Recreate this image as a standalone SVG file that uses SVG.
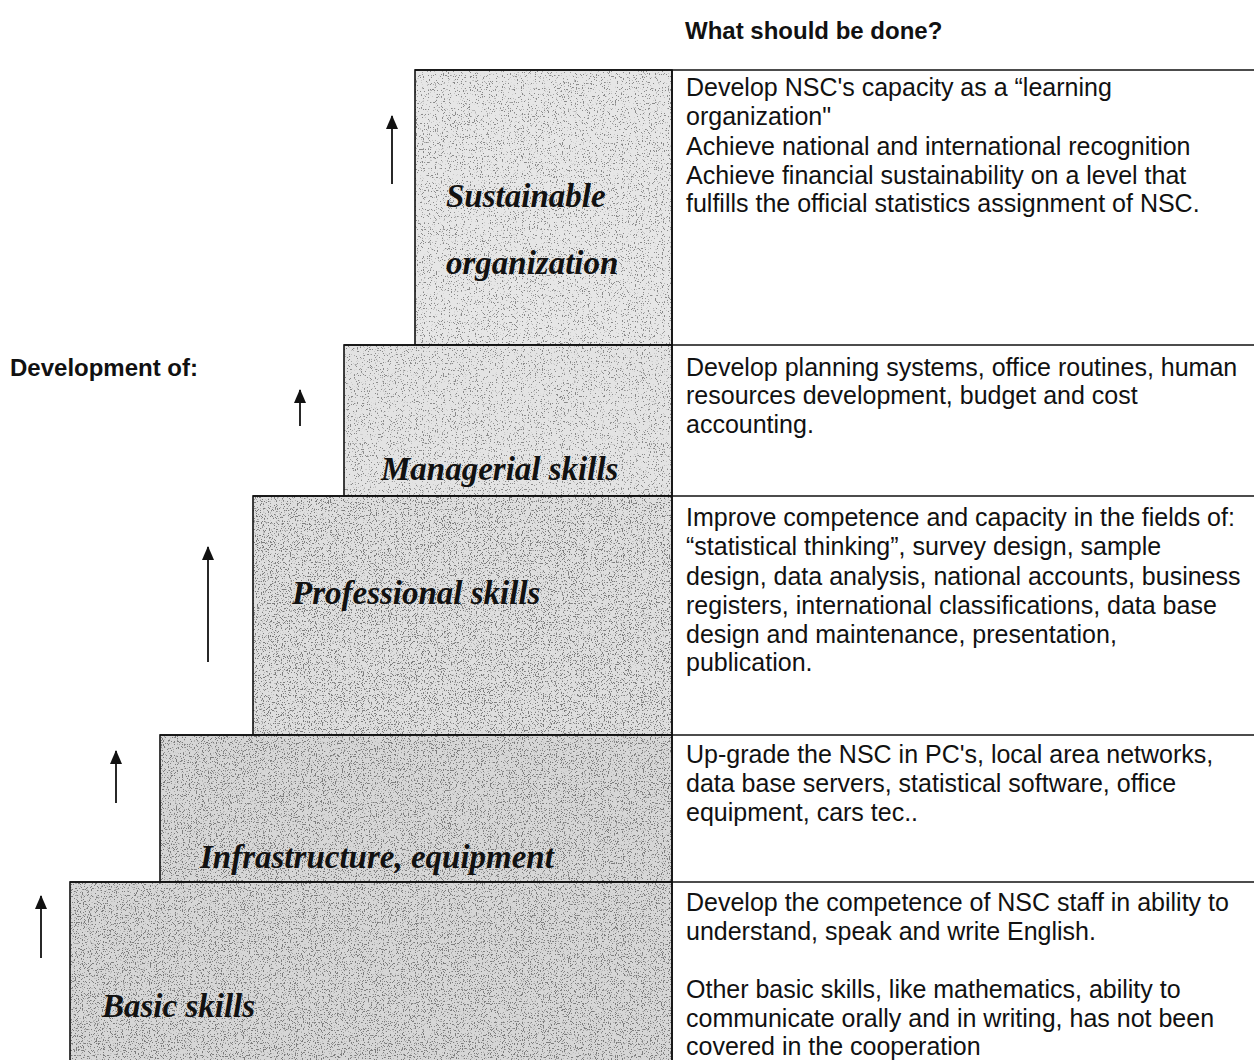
<svg xmlns="http://www.w3.org/2000/svg" width="1254" height="1060" viewBox="0 0 1254 1060">
<style>
.out{stroke:#111;stroke-width:1.6;fill:none}
.lbl{font-family:"Liberation Serif",serif;font-weight:bold;font-style:italic;font-size:33px;fill:#111}
.txt{font-family:"Liberation Sans",Arial,sans-serif;font-size:25px;fill:#111}
.hd{font-family:"Liberation Sans",Arial,sans-serif;font-size:24px;font-weight:bold;fill:#111}
.ln{stroke:#111;stroke-width:1.6;fill:none}
.arr{stroke:#111;stroke-width:1.8;fill:none}
</style>
<defs>
<filter id="sp1" x="0" y="0" width="100%" height="100%">
<feTurbulence type="fractalNoise" baseFrequency="0.85" numOctaves="2" seed="4" result="n"/>
<feColorMatrix in="n" type="matrix" values="0 0 0 0 0.25  0 0 0 0 0.25  0 0 0 0 0.25  14 0 0 0 -8.6" result="d"/>
<feComposite in="d" in2="SourceGraphic" operator="in" result="d2"/>
<feMerge><feMergeNode in="SourceGraphic"/><feMergeNode in="d2"/></feMerge>
</filter>
<filter id="sp2" x="0" y="0" width="100%" height="100%">
<feTurbulence type="fractalNoise" baseFrequency="0.85" numOctaves="2" seed="9" result="n"/>
<feColorMatrix in="n" type="matrix" values="0 0 0 0 0.2  0 0 0 0 0.2  0 0 0 0 0.2  14 0 0 0 -8.1" result="d"/>
<feComposite in="d" in2="SourceGraphic" operator="in" result="d2"/>
<feMerge><feMergeNode in="SourceGraphic"/><feMergeNode in="d2"/></feMerge>
</filter>
<marker id="ah" markerWidth="14" markerHeight="12" refX="13" refY="6" orient="auto" markerUnits="userSpaceOnUse" viewBox="0 0 14 12">
<path d="M0 0 L14 6 L0 12 Z" fill="#111"/>
</marker>
</defs>
<text class="hd" x="685" y="39">What should be done?</text>
<text class="hd" x="10" y="376">Development of:</text>

<g id="sustainable">
<rect x="415" y="70" width="257" height="275" fill="#e6e6e6" filter="url(#sp1)"/>
<rect class="out" x="415" y="70" width="257" height="275"/>
<text class="lbl" x="446" y="207">Sustainable</text>
<text class="lbl" x="446" y="274">organization</text>
</g>
<g id="managerial">
<rect x="344" y="345" width="328" height="151" fill="#e3e3e3" filter="url(#sp1)"/>
<rect class="out" x="344" y="345" width="328" height="151"/>
<text class="lbl" x="381" y="480">Managerial skills</text>
</g>
<g id="professional">
<rect x="253" y="496" width="419" height="239" fill="#dedede" filter="url(#sp2)"/>
<rect class="out" x="253" y="496" width="419" height="239"/>
<text class="lbl" x="292" y="604">Professional skills</text>
</g>
<g id="infrastructure">
<rect x="160" y="735" width="512" height="147" fill="#d6d6d6" filter="url(#sp2)"/>
<rect class="out" x="160" y="735" width="512" height="147"/>
<text class="lbl" x="200" y="868">Infrastructure, equipment</text>
</g>
<g id="basic">
<rect x="70" y="882" width="602" height="190" fill="#d6d6d6" filter="url(#sp2)"/>
<rect class="out" x="70" y="882" width="602" height="190"/>
<text class="lbl" x="102" y="1017">Basic skills</text>
</g>

<g id="table">
<line class="ln" x1="415" y1="70" x2="1254" y2="70"/>
<line class="ln" x1="344" y1="345" x2="1254" y2="345"/>
<line class="ln" x1="253" y1="496" x2="1254" y2="496"/>
<line class="ln" x1="160" y1="735" x2="1254" y2="735"/>
<line class="ln" x1="70" y1="882" x2="1254" y2="882"/>
<line class="ln" x1="672" y1="70" x2="672" y2="1060"/>
</g>

<g id="text-sustainable" class="txt">
<text x="686" y="96">Develop NSC's capacity as a “learning</text>
<text x="686" y="125">organization"</text>
<text x="686" y="155">Achieve national and international recognition</text>
<text x="686" y="184">Achieve financial sustainability on a level that</text>
<text x="686" y="212">fulfills the official statistics assignment of NSC.</text>
</g>
<g id="text-managerial" class="txt">
<text x="686" y="376">Develop planning systems, office routines, human</text>
<text x="686" y="404">resources development, budget and cost</text>
<text x="686" y="433">accounting.</text>
</g>
<g id="text-professional" class="txt">
<text x="686" y="526">Improve competence and capacity in the fields of:</text>
<text x="686" y="555">“statistical thinking”, survey design, sample</text>
<text x="686" y="585">design, data analysis, national accounts, business</text>
<text x="686" y="614">registers, international classifications, data base</text>
<text x="686" y="643">design and maintenance, presentation,</text>
<text x="686" y="671">publication.</text>
</g>
<g id="text-infrastructure" class="txt">
<text x="686" y="763">Up-grade the NSC in PC's, local area networks,</text>
<text x="686" y="792">data base servers, statistical software, office</text>
<text x="686" y="821">equipment, cars tec..</text>
</g>
<g id="text-basic" class="txt">
<text x="686" y="911">Develop the competence of NSC staff in ability to</text>
<text x="686" y="940">understand, speak and write English.</text>
<text x="686" y="998">Other basic skills, like mathematics, ability to</text>
<text x="686" y="1027">communicate orally and in writing, has not been</text>
<text x="686" y="1055">covered in the cooperation</text>
</g>

<g id="connectors">
<line class="arr" x1="392" y1="184" x2="392" y2="116" marker-end="url(#ah)"/>
<line class="arr" x1="300" y1="426" x2="300" y2="390" marker-end="url(#ah)"/>
<line class="arr" x1="208" y1="662" x2="208" y2="547" marker-end="url(#ah)"/>
<line class="arr" x1="116" y1="803" x2="116" y2="751" marker-end="url(#ah)"/>
<line class="arr" x1="41" y1="958" x2="41" y2="896" marker-end="url(#ah)"/>
</g>
</svg>
